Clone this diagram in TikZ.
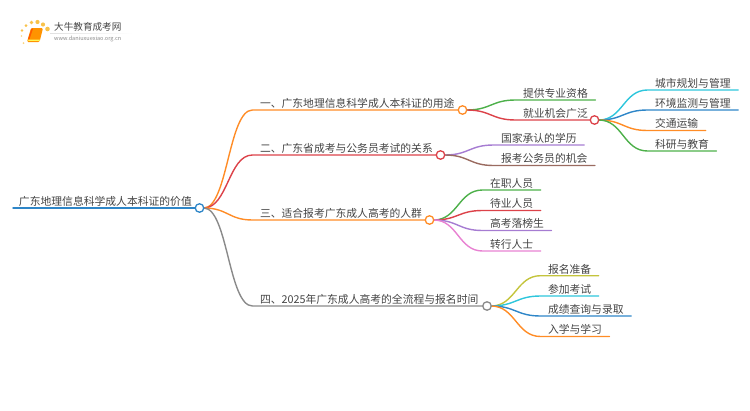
\documentclass[tikz,border=0pt]{standalone}
\usepackage{fontspec}
\setmainfont{Noto Sans CJK SC}
\usetikzlibrary{backgrounds}
\definecolor{textoG}{HTML}{444444}
\definecolor{azulR}{HTML}{2E86C8}
\definecolor{naranjaR}{HTML}{FF8C26}
\definecolor{rojoR}{HTML}{DC4249}
\definecolor{grisR}{HTML}{8A8A8A}
\definecolor{verdeR}{HTML}{4DB04A}
\definecolor{cianR}{HTML}{2EC6DC}
\definecolor{moradoR}{HTML}{A67CD2}
\definecolor{marronR}{HTML}{9A6B60}
\definecolor{rosaR}{HTML}{E882D2}
\definecolor{olivaR}{HTML}{C4C43C}
\definecolor{solR}{HTML}{F8C24A}
\tikzset{
  tema/.style={font=\fontsize{10.8pt}{12pt}\selectfont,text=textoG,anchor=south west,
    inner xsep=7.5pt,inner ysep=0.6pt,text height=9pt,text depth=2pt,outer sep=0pt},
  nudo/.style={circle,draw=#1,fill=white,line width=1.3pt,minimum size=8.5pt,inner sep=0pt,outer sep=0pt},
  rama/.style={line width=1.4pt,line cap=round}
}
\newcommand{\conector}[3]{%
  \draw[rama,#3] (#1.east) .. controls +(24,0) and +(-24,0) .. (#2.south west) -- (#2.south east);
}
\newcommand{\logoNiu}{%
  \fill[solR!70] (21.5,36) circle (0.9);                 % puntos de abajo
  \fill[solR!70] (23.5,43) circle (1);
  \fill[solR] (22,30.5) circle (1.3);                    % sol
  \fill[solR] (26,25.5) circle (1.5);
  \fill[solR] (31.5,22.5) circle (1.9);
  \fill[solR] (37.5,22) circle (2.1);
  \fill[solR] (43,24.5) circle (2.1);
  \fill[solR] (47.5,29) circle (2.3);
  \fill[orange!85!yellow,rounded corners=1.2pt] (31,28) -- (43,28) -- (39.5,42) -- (27,42) -- cycle;   % libro
  \fill[yellow!65!white] (28.5,39.5) -- (40,39.5) -- (39.6,40.8) -- (28.2,40.8) -- cycle;
  \fill[orange!70!red] (31.5,28.5) -- (33,28.5) -- (29.5,39) -- (28,39) -- cycle;
}
\begin{document}
\begin{tikzpicture}[x=1pt,y=-1pt]
  \useasboundingbox (0,0) rectangle (750,410);
  \logoNiu
  \node[font=\fontsize{9.6pt}{11pt}\selectfont,text=textoG,anchor=west,inner sep=0pt] (marca) at (54,27) {大牛教育成考网};
  \node[font=\fontsize{5.55pt}{6pt}\selectfont,text=grisR,anchor=west,inner sep=0pt] (web) at (54,39) {www.daniuxuexiao.org.cn};
  \shade[left color=black!12,right color=white] (50,33) rectangle (133,33.7);

  % raiz
  \node[tema,inner xsep=6pt] (raiz) at (13,208) {广东地理信息科学成人本科证的价值};
  \node[nudo=azulR] (nRaiz) at (199.5,208) {};

  % ramas principales
  \node[tema] (uso) at (252.5,110) {一、广东地理信息科学成人本科证的用途};
  \node[nudo=naranjaR] (nUso) at (462.5,110) {};
  \node[tema] (rel) at (252.5,155) {二、广东省成考与公务员考试的关系};
  \node[nudo=rojoR] (nRel) at (440.5,155) {};
  \node[tema] (pub) at (252.5,220) {三、适合报考广东成人高考的人群};
  \node[nudo=naranjaR] (nPub) at (429.5,220) {};
  \node[tema] (flu) at (252.5,306) {四、2025年广东成人高考的全流程与报名时间};
  \node[nudo=grisR] (nFlu) at (487,306) {};

  % hojas
  \node[tema] (cua) at (515.5,100) {提供专业资格};
  \node[tema] (emp) at (515.5,120) {就业机会广泛};
  \node[nudo=rojoR] (nEmp) at (594.5,120) {};
  \node[tema] (urb) at (647.5,90) {城市规划与管理};
  \node[tema] (amb) at (647.5,110) {环境监测与管理};
  \node[tema] (tra) at (647.5,130.5) {交通运输};
  \node[tema] (inv) at (647.5,151) {科研与教育};
  \node[tema] (acr) at (493.5,145) {国家承认的学历};
  \node[tema] (opo) at (493.5,165.5) {报考公务员的机会};
  \node[tema] (ser) at (482.5,190) {在职人员};
  \node[tema] (par) at (482.5,210.5) {待业人员};
  \node[tema] (sus) at (482.5,230.5) {高考落榜生};
  \node[tema] (cam) at (482.5,251) {转行人士};
  \node[tema] (pre) at (540.5,275.7) {报名准备};
  \node[tema] (exa) at (540.5,296) {参加考试};
  \node[tema] (con) at (540.5,316) {成绩查询与录取};
  \node[tema] (ing) at (540.5,336.5) {入学与学习};

  \begin{scope}[on background layer]
    \draw[rama,azulR] (raiz.south west) -- (raiz.south east);
    \conector{nRaiz}{uso}{naranjaR}
    \conector{nRaiz}{rel}{rojoR}
    \conector{nRaiz}{pub}{naranjaR}
    \conector{nRaiz}{flu}{grisR}
    \conector{nUso}{cua}{verdeR}
    \conector{nUso}{emp}{rojoR}
    \conector{nEmp}{urb}{cianR}
    \conector{nEmp}{amb}{azulR}
    \conector{nEmp}{tra}{naranjaR}
    \conector{nEmp}{inv}{verdeR}
    \conector{nRel}{acr}{moradoR}
    \conector{nRel}{opo}{marronR}
    \conector{nPub}{ser}{verdeR}
    \conector{nPub}{par}{rojoR}
    \conector{nPub}{sus}{moradoR}
    \conector{nPub}{cam}{rosaR}
    \conector{nFlu}{pre}{olivaR}
    \conector{nFlu}{exa}{cianR}
    \conector{nFlu}{con}{azulR}
    \conector{nFlu}{ing}{naranjaR}
  \end{scope}
\end{tikzpicture}
\end{document}
